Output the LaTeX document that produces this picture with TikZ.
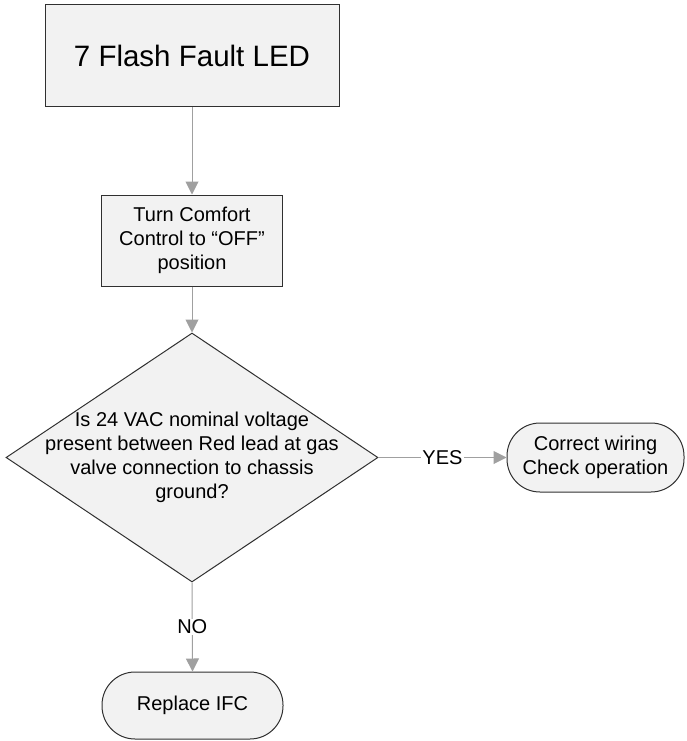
\documentclass[tikz,border=0pt]{standalone}
\usepackage{fontspec}
\setmainfont{Liberation Sans}
\usetikzlibrary{arrows.meta,shapes.geometric}
\definecolor{boxfill}{HTML}{F2F2F2}
\definecolor{linegray}{HTML}{A0A0A0}
\definecolor{edgecol}{HTML}{303030}
\begin{document}
\begin{tikzpicture}[x=1pt,y=-1pt,
  box/.style={draw=edgecol, fill=boxfill, line width=1pt, inner sep=0pt, align=center, font=\fontsize{20}{24}\selectfont},
  term/.style={box, rounded corners=33pt},
  conn/.style={draw=linegray, line width=1pt, -{Triangle[width=13pt,length=13pt]}, color=linegray},
  lbl/.style={fill=white, text=black, inner sep=1pt, font=\fontsize{20}{24}\selectfont}]
\useasboundingbox (0,0) rectangle (686,741);
\node[box, minimum width=294, minimum height=102, font=\fontsize{29.5}{35}\selectfont] (fault) at (192,56) {7 Flash Fault LED};
\node[box, minimum width=181, minimum height=91] (turn) at (192,240.5) {Turn Comfort\\Control to “OFF”\\position};
\node[diamond, draw=edgecol, fill=boxfill, line width=1pt, minimum width=372, minimum height=249, inner sep=0pt] (q) at (192,457.5) {};
\node[align=center, inner sep=0pt, font=\fontsize{20}{24}\selectfont] (qtext) at (q.center) {Is 24 VAC nominal voltage\\present between Red lead at gas\\valve connection to chassis\\ground?};
\node[term, minimum width=177, minimum height=69] (ok) at (595.5,457.5) {Correct wiring\\Check operation};
\node[term, minimum width=181, minimum height=67] (ifc) at (192.5,705.5) {Replace IFC};
\draw[conn] (fault) -- (turn);
\draw[conn] (turn) -- (q);
\draw[conn] (q.east) -- (ok.west) node[lbl, midway] (yes) {YES};
\draw[conn] (q.south) -- (ifc.north) node[lbl, midway] (no) {NO};
\end{tikzpicture}
\end{document}
